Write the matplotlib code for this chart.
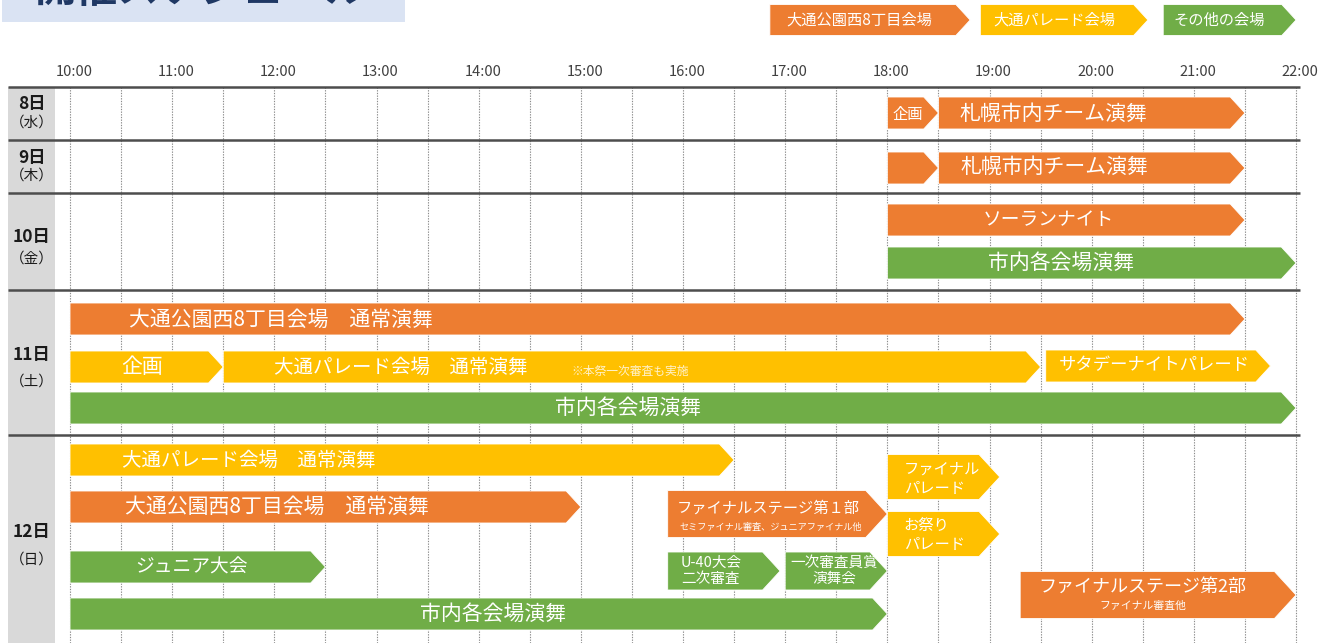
import matplotlib.pyplot as plt
from matplotlib.patches import Polygon, FancyBboxPatch

plt.rcParams['font.family'] = ['Noto Sans CJK JP', 'DejaVu Sans']

# --- data -------------------------------------------------------------
days = ['8日', '9日', '10日', '11日', '12日']
weekdays = ['（水）', '（木）', '（金）', '（土）', '（日）']
hours = list(range(10, 23))
tick_labels = [f'{h}:00' for h in hours]

venues = ['大通公園西8丁目会場', '大通パレード会場', 'その他の会場']
venue_colors = ['#ED7D31', '#FFC000', '#70AD47']

# events: start / end in hours, venue index
ev_label = ['企画', '札幌市内チーム演舞', '', '札幌市内チーム演舞',
            'ソーランナイト', '市内各会場演舞',
            '大通公園西8丁目会場　通常演舞', '企画', '大通パレード会場　通常演舞',
            'サタデーナイトパレード', '市内各会場演舞',
            '大通パレード会場　通常演舞', '大通公園西8丁目会場　通常演舞',
            'ファイナルステージ第１部', 'ファイナル\nパレード', 'お祭り\nパレード',
            'ジュニア大会', 'U-40大会\n二次審査', '一次審査員賞\n演舞会',
            '市内各会場演舞', 'ファイナルステージ第2部']
ev_start = [18.0, 18.5, 18.0, 18.5, 18.0, 18.0, 10.0, 10.0, 11.5, 19.55, 10.0,
            10.0, 10.0, 15.85, 18.0, 18.0, 10.0, 15.85, 17.0, 10.0, 19.3]
ev_end = [18.5, 21.5, 18.5, 21.5, 21.5, 22.0, 21.5, 11.5, 19.5, 21.75, 22.0,
          16.5, 15.0, 18.0, 19.1, 19.1, 12.5, 16.95, 18.0, 18.0, 22.0]
ev_venue = [0, 0, 0, 0, 0, 2, 0, 1, 1, 1, 2, 1, 0, 0, 1, 1, 2, 2, 2, 2, 0]

notes = ['※本祭一次審査も実施', 'セミファイナル審査、ジュニアファイナル他', 'ファイナル審査他']

# --- layout (pixels on a 1318x643 canvas, x in hours) -------------------
W, H = 1318, 643
PX_H = 102.17          # pixels per hour
X10 = 70               # pixel of 10:00

row_lines = [87, 140, 193, 290, 435]
day_y = [104, 158, 237, 355, 532]
wday_y = [123, 176, 259, 382, 560]

ev_y = [113, 113, 168, 168, 220, 263, 319, 367, 367, 366, 408,
        460, 507, 514, 477, 534, 567, 571, 571, 614, 595]
ev_h = [32, 32, 32, 32, 32, 32, 32, 32, 32, 32, 32,
        32, 32, 47, 45, 45, 32, 38, 38, 32, 47]
ev_tx = [18.20, 19.63, 0, 19.64, 19.58, 19.70, 12.06, 10.71, 13.24, 20.61, 15.46,
         11.75, 12.03, 16.83, 18.16, 18.16, 11.19, 15.98, 17.48, 14.14, 20.50]
ev_ty = [114, 114, 0, 167, 219, 263, 320, 367, 367, 365, 408,
         460, 507, 508, 479, 535, 567, 571, 571, 614, 587]
ev_fs = [11, 15, 0, 15, 13.5, 15, 15, 15, 14, 12.5, 15,
         14, 15, 11, 11, 11, 13.5, 10.5, 10.5, 15, 13]
ev_ha = ['center'] * 14 + ['left', 'left', 'center', 'left'] + ['center'] * 3

note_x = [15.48, 16.86, 20.50]
note_y = [371, 527, 606]
note_fs = [8.5, 6.6, 7.8]

leg_x0 = [16.85, 18.91, 20.70]
leg_x1 = [18.81, 20.55, 22.0]


def to_h(px):
    return 10 + (px - X10) / PX_H


def arrow(ax, x0, x1, yc, h, color, z=3):
    tip = 0.46 * h / PX_H
    pts = [(x0, yc - h / 2), (x1 - tip, yc - h / 2), (x1, yc),
           (x1 - tip, yc + h / 2), (x0, yc + h / 2)]
    ax.add_patch(Polygon(pts, closed=True, fc=color, ec='white', lw=0.6, zorder=z))


fig = plt.figure(figsize=(W / 100, H / 100), dpi=100)
ax = fig.add_axes([0, 0, 1, 1])
ax.set_xlim(to_h(0), to_h(W))
ax.set_ylim(H, 0)
ax.axis('off')

# title box (cut off at the top of the image, as in the source)
ax.add_patch(FancyBboxPatch((to_h(2), -20), to_h(405) - to_h(2), 42,
                            boxstyle='round,pad=0,rounding_size=0.06',
                            fc='#DAE3F3', ec='none', zorder=1))
ax.text(to_h(35), 2, '開催スケジュール', fontsize=30, fontweight='bold',
        color='#1F3864', va='baseline', ha='left', zorder=2)

# legend
for x0, x1, c, name in zip(leg_x0, leg_x1, venue_colors, venues):
    arrow(ax, x0, x1, 20, 31, c)
    ax.text((x0 + x1) / 2 - 0.1, 20, name, color='white', fontsize=11,
            ha='center', va='center', zorder=4)

# hour labels
for h, lab in zip(hours, tick_labels):
    ax.text(h + 0.04, 72, lab, ha='center', va='center', fontsize=10.5, color='#404040')

# day label column
ax.add_patch(plt.Rectangle((to_h(8), row_lines[0]), to_h(55) - to_h(8), H - row_lines[0],
                           fc='#D9D9D9', ec='none', zorder=1))

# dotted half-hour grid
for i in range(25):
    x = 10 + i * 0.5
    ax.plot([x, x], [row_lines[0], H], color='#8C8C8C', lw=0.8,
            ls=(0, (1.2, 1.2)), zorder=1)

# row separators
for y in row_lines:
    ax.plot([to_h(8), to_h(1300)], [y, y], color='#4D4D4D', lw=1.8, zorder=2,
            solid_capstyle='butt')

for d, w, yd, yw in zip(days, weekdays, day_y, wday_y):
    ax.text(to_h(32), yd, d, ha='center', va='center', fontsize=12.5,
            fontweight='bold', color='#1a1a1a', zorder=3)
    ax.text(to_h(32), yw, w, ha='center', va='center', fontsize=10.5,
            color='#1a1a1a', zorder=3)

# events
for i, lab in enumerate(ev_label):
    arrow(ax, ev_start[i], ev_end[i], ev_y[i], ev_h[i], venue_colors[ev_venue[i]])
    if lab:
        ax.text(ev_tx[i], ev_ty[i], lab, color='white', fontsize=ev_fs[i],
                ha=ev_ha[i], va='center', linespacing=1.2, zorder=4)

for t, x, y, fs in zip(notes, note_x, note_y, note_fs):
    ax.text(x, y, t, color='#FFF2CC' if fs == 8.5 else 'white', fontsize=fs,
            ha='center', va='center', zorder=4)

fig.savefig('out.png', dpi=100)
